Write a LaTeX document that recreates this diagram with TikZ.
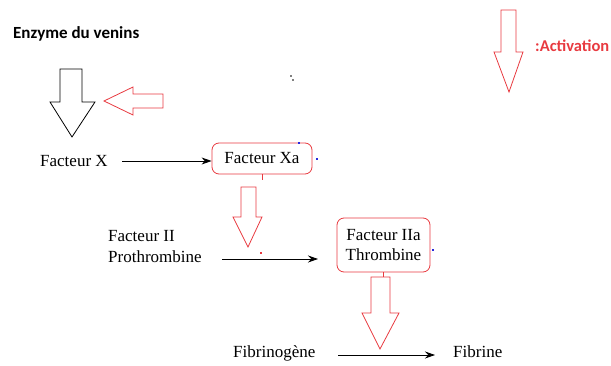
\documentclass[tikz,border=0pt]{standalone}
\usepackage{fontspec}
\setmainfont{Liberation Serif}
\newfontfamily\labelfont{Carlito}
\usetikzlibrary{arrows.meta}
\definecolor{mred}{RGB}{232,58,64}
\definecolor{mblue}{RGB}{40,40,220}
\tikzset{
  txt/.style={inner sep=0pt, font=\fontsize{17}{20}\selectfont},
  factbox/.style={draw=mred, line width=0.8pt, rounded corners=7pt, inner sep=0pt,
    align=center, font=\fontsize{17}{20}\selectfont},
  conn/.style={line width=0.8pt, -{Stealth[length=10pt,width=7pt]}},
  blockred/.style={draw=mred, line width=0.8pt, line join=miter},
  blockblack/.style={draw=black, line width=0.8pt, line join=miter},
  speck/.style={inner sep=0pt, minimum size=1.6pt, fill=#1},
}
\begin{document}
\begin{tikzpicture}[x=1pt, y=-1pt]
\useasboundingbox (0,0) rectangle (611,366);

% headings
\node[anchor=base west, inner sep=0pt, font=\labelfont\bfseries\fontsize{17}{18}\selectfont]
  (enz) at (13,39) {Enzyme du venins};
\node[anchor=base west, inner sep=0pt, text=mred, font=\labelfont\bfseries\fontsize{16.5}{18}\selectfont]
  (act) at (535,52) {:Activation};

% factors
\node[txt, anchor=base west] (fx) at (40,167) {Facteur X};
\node[factbox, minimum width=100pt, minimum height=31pt] (fxa) at (262,158.5) {Facteur Xa};
\node[txt, anchor=base west] (f2) at (108,242) {Facteur II};
\node[txt, anchor=base west] (pro) at (108,263) {Prothrombine};
\node[factbox, minimum width=93pt, minimum height=54pt] (f2a) at (383.5,245) {Facteur IIa\\Thrombine};
\node[txt, anchor=base west] (fg) at (233,358) {Fibrinogène};
\node[txt, anchor=base west] (fib) at (453,358) {Fibrine};

% loose ends of the conversion arrows
\coordinate (xs) at (122,161);
\coordinate (ps) at (222,259);
\coordinate (pe) at (318,259);
\coordinate (gs) at (338,355);
\coordinate (ge) at (435,355);

% conversion arrows
\draw[conn] (xs) -- (xs -| fxa.west);
\draw[conn] (ps) -- (pe);
\draw[conn] (gs) -- (ge);

% stems below the boxes
\draw[mred, line width=0.8pt] (fxa.south) -- ++(0,6);
\draw[mred, line width=0.8pt] (f2a.south) -- ++(0,5);

% block arrows
\draw[blockblack] (60,69) -- (82,69) -- (82,102) -- (95,102) -- (72,137) -- (50,102) -- (60,102) -- cycle;
\draw[blockred] (163,94) -- (133,94) -- (133,87) -- (104,101) -- (133,115) -- (133,108) -- (163,108) -- cycle;
\draw[blockred] (501,10) -- (516,10) -- (516,52) -- (523,52) -- (509,92) -- (494,52) -- (501,52) -- cycle;
\draw[blockred] (241,187) -- (256,187) -- (256,217) -- (262,217) -- (248,247) -- (233,217) -- (241,217) -- cycle;
\draw[blockred] (371,277) -- (390,277) -- (390,313) -- (399,313) -- (380,349) -- (362,313) -- (371,313) -- cycle;

% small specks
\node[speck=mblue] (s1) at (299,143) {};
\node[speck=mblue] (s2) at (317,159) {};
\node[speck=mblue] (s3) at (433,250) {};
\node[speck=mred] (s4) at (261,253) {};
\node[speck=gray] (s5) at (291,76) {};
\node[speck=gray] (s6) at (293,80) {};
\end{tikzpicture}
\end{document}
